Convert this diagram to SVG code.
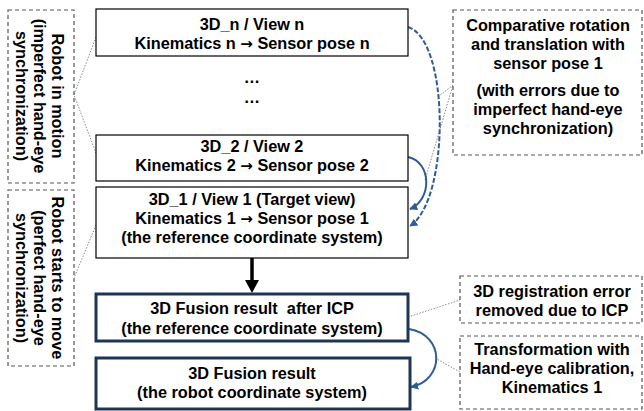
<svg xmlns="http://www.w3.org/2000/svg" width="644" height="411" viewBox="0 0 644 411">
<style>
text{font-family:"Liberation Sans",Arial,sans-serif;font-weight:bold;font-size:16.3px;fill:#000;text-anchor:middle}
.ar{font-family:"DejaVu Sans",sans-serif;font-size:15px}
.box{fill:#fff;stroke:#000;stroke-width:1.2}
.fbox{fill:#fff;stroke:#1f3556;stroke-width:3}
.dbox{fill:#fff;stroke:#555;stroke-width:1.2;stroke-dasharray:4,3}
.dot{fill:none;stroke:#8a8a8a;stroke-width:1;stroke-dasharray:1.5,1.5}
.blue{fill:none;stroke:#2f5c98;stroke-width:2}
</style>
<defs>
<marker id="bh" viewBox="0 0 10 10" refX="9" refY="5" markerWidth="4" markerHeight="4" orient="auto" markerUnits="strokeWidth">
<path d="M0,0 L10,5 L0,10 z" fill="#2f5c98"/>
</marker>
</defs>
<g id="connectors">
<polyline class="dot" points="96,37 74,95 96,153"/>
<polyline class="dot" points="96,225 74,278"/>
<polyline class="dot" points="438,97 453,85 425,180"/>
<polyline class="dot" points="408,317 460,300"/>
<polyline class="dot" points="435,358 460,372"/>
<path class="blue" d="M408,27 C450,40 450,200 410,226" stroke-dasharray="5,2" marker-end="url(#bh)"/>
<path class="blue" d="M408,157 C432,162 432,200 410,209" marker-end="url(#bh)"/>
<path class="blue" d="M409,329 C445,335 445,380 411,387" stroke-width="2.5" marker-end="url(#bh)"/>
<line x1="252" y1="258" x2="252" y2="282" stroke="#000" stroke-width="3.5"/>
<polygon points="245,280 259,280 252,293" fill="#000"/>
</g>
<g id="robot-motion">
<rect class="dbox" x="8" y="10" width="66" height="173"/>
<g transform="translate(0,96) rotate(90)">
<text x="0" y="-52">Robot in motion</text>
<text x="0" y="-34">(imperfect hand-eye</text>
<text x="0" y="-16">synchronization)</text>
</g>
</g>
<g id="robot-starts">
<rect class="dbox" x="8" y="190" width="66" height="176"/>
<g transform="translate(0,278) rotate(90)">
<text x="0" y="-52">Robot starts to move</text>
<text x="0" y="-34">(perfect hand-eye</text>
<text x="0" y="-16">synchronization)</text>
</g>
</g>
<g id="view-n">
<rect class="box" x="96" y="9" width="312" height="47"/>
<text x="252" y="30">3D_n / View n</text>
<text x="252" y="49">Kinematics n <tspan class="ar">→</tspan> Sensor pose n</text>
</g>
<g id="ellipsis">
<text x="252" y="83">…</text>
<text x="252" y="103">…</text>
</g>
<g id="view-2">
<rect class="box" x="96" y="135" width="312" height="46"/>
<text x="252" y="152">3D_2 / View 2</text>
<text x="252" y="171">Kinematics 2 <tspan class="ar">→</tspan> Sensor pose 2</text>
</g>
<g id="view-1">
<rect class="box" x="96" y="187" width="312" height="71"/>
<text x="252" y="205">3D_1 / View 1 (Target view)</text>
<text x="252" y="224">Kinematics 1 <tspan class="ar">→</tspan> Sensor pose 1</text>
<text x="252" y="243">(the reference coordinate system)</text>
</g>
<g id="fusion-icp">
<rect class="fbox" x="96" y="294" width="312" height="47"/>
<text x="252" y="314" style="white-space:pre">3D Fusion result  after ICP</text>
<text x="252" y="334">(the reference coordinate system)</text>
</g>
<g id="fusion">
<rect class="fbox" x="96" y="358" width="314" height="51"/>
<text x="252" y="379">3D Fusion result</text>
<text x="252" y="398">(the robot coordinate system)</text>
</g>
<g id="comparative">
<rect class="dbox" x="453" y="10" width="189" height="145"/>
<text x="548" y="31">Comparative rotation</text>
<text x="548" y="50">and translation with</text>
<text x="548" y="69">sensor pose 1</text>
<text x="548" y="96">(with errors due to</text>
<text x="548" y="115">imperfect hand-eye</text>
<text x="548" y="134">synchronization)</text>
</g>
<g id="registration">
<rect class="dbox" x="460" y="276" width="182" height="47"/>
<text x="552" y="297">3D registration error</text>
<text x="552" y="316">removed due to ICP</text>
</g>
<g id="transformation">
<rect class="dbox" x="460" y="336" width="182" height="73"/>
<text x="552" y="355">Transformation with</text>
<text x="552" y="374">Hand-eye calibration,</text>
<text x="552" y="393">Kinematics 1</text>
</g>
</svg>
